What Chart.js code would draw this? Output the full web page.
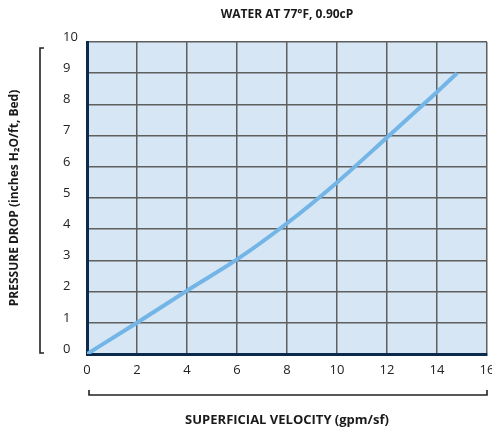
<!DOCTYPE html>
<html>
<head>
<meta charset="utf-8">
<script src="https://cdn.jsdelivr.net/npm/chart.js@4"></script>
<style>
  html, body { margin: 0; padding: 0; background: #fff; }
  #wrap { width: 492px; height: 432px; }
</style>
</head>
<body>
<div id="wrap"><canvas id="pdChart" width="492" height="432"></canvas></div>
<script>
const velocity = [0, 2, 4, 6, 8, 10, 12, 14, 14.8];
const pressureDrop = [0, 1, 2.03, 3.03, 4.19, 5.5, 6.94, 8.4, 9.0];

const chartTitle = 'WATER AT 77\u00B0F, 0.90cP';
const xTitle = 'SUPERFICIAL VELOCITY (gpm/sf)';
const yTitle = 'PRESSURE DROP (inches H\u2082O/ft, Bed)';

const FONT = '"Open Sans", "DejaVu Sans", sans-serif';
const NAVY = '#0b2a4c';

// light blue plot background + brackets + titles
const decor = {
    id: 'decor',
    beforeDraw(chart) {
        const { ctx, chartArea: a } = chart;
        ctx.save();
        ctx.fillStyle = '#d6e6f4';
        ctx.fillRect(a.left, a.top, a.right - a.left, a.bottom - a.top);
        ctx.restore();
    },
    afterDraw(chart) {
        const { ctx, chartArea: a } = chart;
        ctx.save();
        ctx.strokeStyle = '#222';
        ctx.lineWidth = 1.6;
        // y bracket
        ctx.beginPath();
        ctx.moveTo(44, 48);
        ctx.lineTo(40, 48);
        ctx.lineTo(40, 353);
        ctx.lineTo(44, 353);
        ctx.stroke();
        // x bracket
        ctx.beginPath();
        ctx.moveTo(89, 390);
        ctx.lineTo(89, 395);
        ctx.lineTo(487, 395);
        ctx.lineTo(487, 390);
        ctx.stroke();

        ctx.fillStyle = '#1a1a1a';
        ctx.textAlign = 'center';
        ctx.textBaseline = 'middle';
        const cx = (a.left + a.right) / 2;
        ctx.font = 'bold 12px ' + FONT;
        ctx.fillText(chartTitle, cx, 15);
        ctx.font = 'bold 13px ' + FONT;
        ctx.fillText(xTitle, cx, 420);
        ctx.font = 'bold 12px ' + FONT;
        ctx.translate(15, (a.top + a.bottom) / 2);
        ctx.rotate(-Math.PI / 2);
        ctx.fillText(yTitle, 0, 0);
        ctx.restore();
    }
};

new Chart(document.getElementById('pdChart'), {
    type: 'line',
    data: {
        labels: velocity,
        datasets: [{
            data: velocity.map((v, i) => ({ x: v, y: pressureDrop[i] })),
            borderColor: '#72b5e6',
            borderWidth: 4,
            pointRadius: 0,
            fill: false,
            cubicInterpolationMode: 'monotone'
        }]
    },
    options: {
        responsive: false,
        animation: false,
        layout: { padding: { left: 63, top: 42, right: 5, bottom: 0 } },
        plugins: { legend: { display: false }, title: { display: false }, tooltip: { enabled: false } },
        scales: {
            x: {
                type: 'linear',
                min: 0, max: 16,
                afterFit: s => { s.height = 78; s.paddingLeft = 0; s.paddingRight = 0; },
                ticks: { stepSize: 2, color: '#222', padding: 8, font: { family: FONT, size: 13 } },
                grid: { color: '#5f5f5f', lineWidth: 1.5, drawTicks: false },
                border: { color: NAVY, width: 3 }
            },
            y: {
                min: 0, max: 10,
                afterFit: s => { s.width = 24; s.paddingTop = 0; s.paddingBottom = 0; },
                ticks: { stepSize: 1, color: '#222', crossAlign: 'far', padding: 0, labelOffset: -5,
                    font: { family: FONT, size: 13 } },
                grid: { color: '#5f5f5f', lineWidth: 1.5, drawTicks: false },
                border: { color: NAVY, width: 3 }
            }
        }
    },
    plugins: [decor]
});
</script>
</body>
</html>
